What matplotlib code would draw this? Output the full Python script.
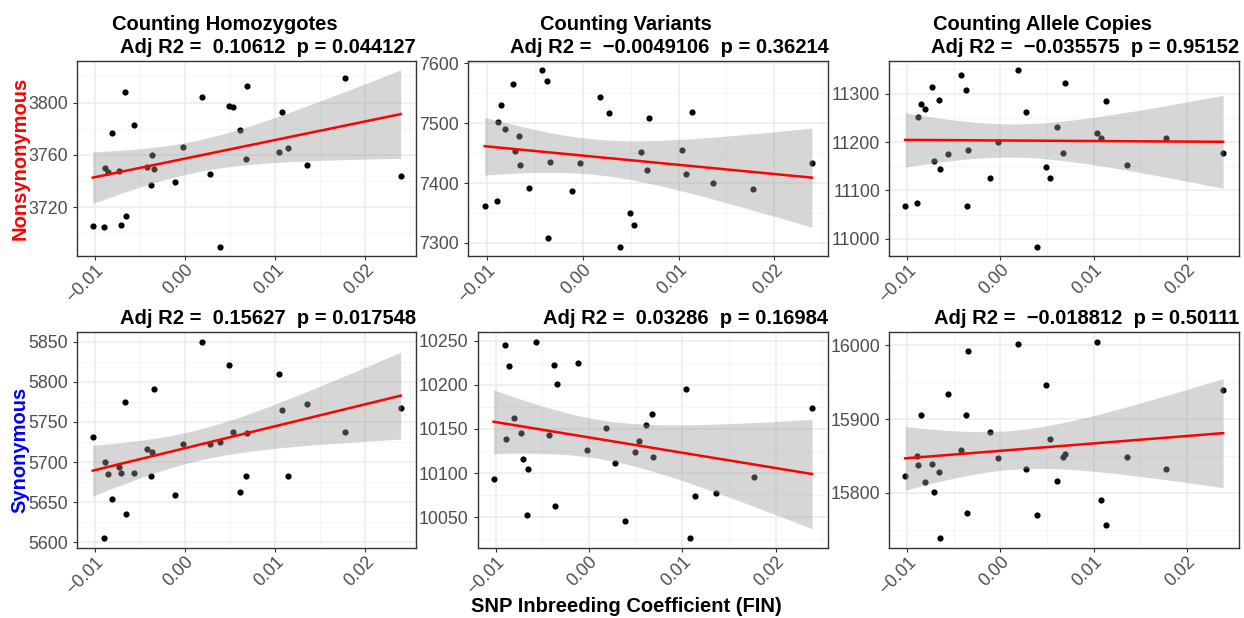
import numpy as np
import matplotlib
matplotlib.use("Agg")
import matplotlib.pyplot as plt
from matplotlib.ticker import MultipleLocator

plt.rcParams['font.family'] = ['Liberation Sans', 'DejaVu Sans']

# SNP inbreeding coefficient, one value per individual (shared by all panels)
fin = [-0.01024, -0.00898, -0.00887, -0.00854, -0.0081, -0.00732, -0.0071, -0.00662,
       -0.0065, -0.00566, -0.00425, -0.00373, -0.00362, -0.00344, -0.00115, -0.00026,
       0.00185, 0.00277, 0.00388, 0.00492, 0.00532, 0.00606, 0.00673, 0.00688,
       0.01039, 0.01079, 0.01139, 0.01357, 0.01774, 0.02392]

nonsyn_homozygotes = [3705.5, 3704.5, 3749.8, 3747, 3777, 3748, 3706, 3808.4,
                      3713.4, 3783, 3751, 3736.6, 3760, 3749, 3739, 3766,
                      3804, 3745, 3689.4, 3797.5, 3796.4, 3779, 3757, 3812.5,
                      3761.8, 3793, 3765, 3752, 3818.6, 3743.7]
nonsyn_variants = [7361.7, 7370, 7502, 7531, 7491, 7566, 7453, 7478,
                   7430, 7392, 7589, 7571, 7308, 7435, 7386, 7434,
                   7544.4, 7517, 7293, 7350.6, 7329.4, 7451.7, 7421, 7508,
                   7456, 7415.6, 7518, 7400, 7389.4, 7434]
nonsyn_alleles = [11067.5, 11075, 11252, 11278, 11268.6, 11314.6, 11161, 11286.5,
                  11143.7, 11175, 11339, 11308.4, 11067.5, 11184, 11125, 11200,
                  11349, 11262.5, 10983, 11148.5, 11126, 11231, 11178, 11321,
                  11218.5, 11209, 11284, 11152, 11208, 11178]
syn_homozygotes = [5730.7, 5605, 5700, 5685, 5653.6, 5693.8, 5686.7, 5775,
                   5635.7, 5686, 5716, 5683, 5712, 5791, 5659, 5722,
                   5850, 5723, 5725, 5821, 5738, 5662, 5682, 5736,
                   5809.6, 5765, 5683, 5772, 5738, 5767]
syn_variants = [10092.8, 10245, 10138.6, 10221, 10162.5, 10146, 10116, 10052.7,
                10104, 10249, 10143, 10223, 10062, 10201.5, 10225.5, 10125.7,
                10151.5, 10111, 10046, 10124, 10136.4, 10155, 10167, 10118,
                10195, 10026, 10074, 10077, 10095, 10173.4]
syn_alleles = [15823, 15849.5, 15837.8, 15905.4, 15815, 15839, 15801.8, 15828,
               15738.7, 15934, 15857.7, 15905.4, 15772.5, 15992, 15883, 15847,
               16002, 15833, 15770, 15945.5, 15873, 15816, 15848, 15853,
               16004.5, 15790.5, 15756, 15849, 15832, 15939]

col_titles = ["Counting Homozygotes", "Counting Variants", "Counting Allele Copies"]
stat_titles = ["Adj R2 =  0.10612  p = 0.044127",
               "Adj R2 =  \u22120.0049106  p = 0.36214",
               "Adj R2 =  \u22120.035575  p = 0.95152",
               "Adj R2 =  0.15627  p = 0.017548",
               "Adj R2 =  0.03286  p = 0.16984",
               "Adj R2 =  \u22120.018812  p = 0.50111"]
row_labels = ["Nonsynonymous", "Synonymous"]
row_colors = ["red", "blue"]
y_steps = [40, 100, 100, 50, 50, 100]
T975 = 2.0484  # t quantile, df = 28

series = [nonsyn_homozygotes, nonsyn_variants, nonsyn_alleles,
          syn_homozygotes, syn_variants, syn_alleles]

W, H = 1244, 618
fig = plt.figure(figsize=(W / 100, H / 100), dpi=100)

# axes boxes in pixels: left, top, right, bottom
boxes = [(77.3, 61, 416, 256), (468.3, 61, 828.3, 256), (889.3, 61, 1239, 256),
         (77.3, 332, 416, 548), (477.7, 332, 828, 548), (889.3, 332, 1239, 548)]

x = np.array(fin)
for i, y in enumerate(series):
    y = np.array(y)
    l, t, r, b = boxes[i]
    ax = fig.add_axes([l / W, 1 - b / H, (r - l) / W, (b - t) / H])

    # linear fit and 95% confidence band
    n = len(x)
    slope, icpt = np.polyfit(x, y, 1)
    resid = y - (icpt + slope * x)
    s = np.sqrt(np.sum(resid ** 2) / (n - 2))
    xg = np.linspace(x.min(), x.max(), 80)
    yg = icpt + slope * xg
    se = s * np.sqrt(1 / n + (xg - x.mean()) ** 2 / np.sum((x - x.mean()) ** 2))
    lo, hi = yg - T975 * se, yg + T975 * se

    ax.scatter(x, y, s=20, color='black', zorder=2, linewidths=0)
    ax.fill_between(xg, lo, hi, color='#999999', alpha=0.4, linewidth=0, zorder=3)
    ax.plot(xg, yg, color='red', lw=1.8, zorder=4)

    xr = x.max() - x.min()
    ax.set_xlim(x.min() - 0.05 * xr, x.max() + 0.05 * xr)
    ymin, ymax = min(y.min(), lo.min()), max(y.max(), hi.max())
    yr = ymax - ymin
    ax.set_ylim(ymin - 0.05 * yr, ymax + 0.05 * yr)

    ax.xaxis.set_major_locator(MultipleLocator(0.01))
    ax.xaxis.set_minor_locator(MultipleLocator(0.005))
    ax.yaxis.set_major_locator(MultipleLocator(y_steps[i]))
    ax.yaxis.set_minor_locator(MultipleLocator(y_steps[i] / 2))
    ax.grid(which='major', color='#EBEBEB', lw=1.1, zorder=0)
    ax.grid(which='minor', color='#F3F3F3', lw=0.6, zorder=0)
    ax.set_axisbelow(True)
    for sp in ax.spines.values():
        sp.set_color('#333333')
        sp.set_linewidth(1.0)
    ax.tick_params(which='major', length=3, width=0.8, color='#333333',
                   labelsize=12.8, labelcolor='#4D4D4D')
    ax.tick_params(axis='x', which='major', pad=1)
    ax.tick_params(which='minor', length=0)
    ax.set_xticks([-0.01, 0.0, 0.01, 0.02])
    ax.set_xticklabels(['\u22120.01', '0.00', '0.01', '0.02'], rotation=45,
                       ha='right', va='top', rotation_mode='anchor')
    ax.yaxis.set_major_formatter(matplotlib.ticker.FuncFormatter(lambda v, p: f"{v:.0f}"))

    ax.annotate(stat_titles[i], xy=(1, 1), xycoords='axes fraction',
                xytext=(0, 8 * 0.72), textcoords='offset points',
                ha='right', va='baseline', fontsize=14.5, fontweight='bold')
    if i < 3:
        ax.annotate(col_titles[i], xy=(0.5, 1), xycoords='axes fraction',
                    xytext=(-22 * 0.72, 31 * 0.72), textcoords='offset points',
                    ha='center', va='baseline', fontsize=14.5, fontweight='bold')

fig.text(20 / W, 1 - 158.5 / H, row_labels[0], rotation=90, color=row_colors[0],
         ha='center', va='center', fontsize=14.5, fontweight='bold')
fig.text(20 / W, 1 - 450 / H, row_labels[1], rotation=90, color=row_colors[1],
         ha='center', va='center', fontsize=14.5, fontweight='bold')
fig.text(626.7 / W, 1 - 606 / H, "SNP Inbreeding Coefficient (FIN)",
         ha='center', va='center', fontsize=14.5, fontweight='bold')

fig.savefig("out.png", dpi=100)
